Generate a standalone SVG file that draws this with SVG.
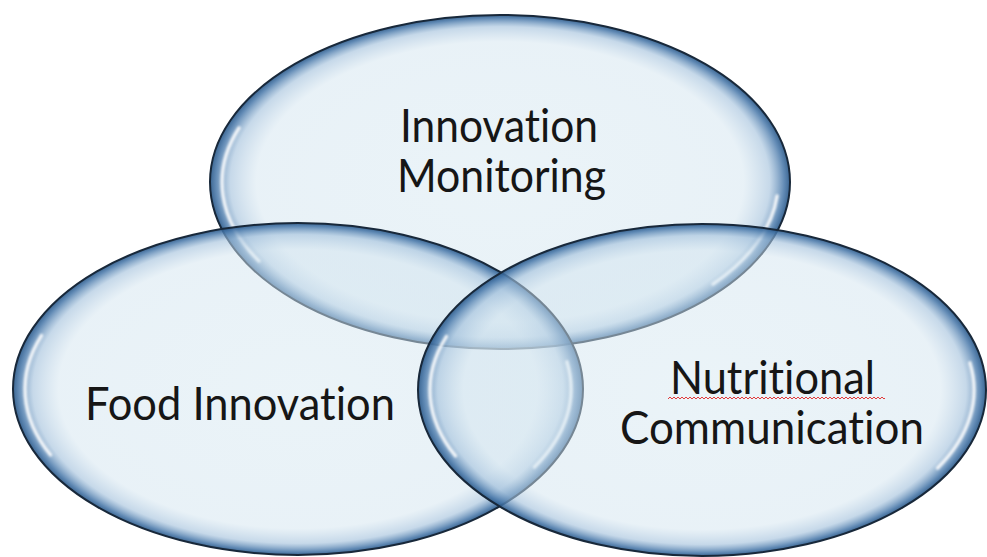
<svg xmlns="http://www.w3.org/2000/svg" width="987" height="557" viewBox="0 0 987 557">
  <style>
    .bubble { fill: url(#glass); stroke: #18283a; stroke-width: 2; }
    .hl { fill: none; stroke: #ffffff; stroke-width: 3.5; stroke-linecap: round; opacity: 0.85; filter: url(#soft); }
    .label { font-family: "Lato", "Open Sans", "Liberation Sans", sans-serif; font-size: 46px; fill: #161616; font-variant-ligatures: none; font-feature-settings: "liga" 0, "dlig" 0; }
  </style>
  <defs>
    <radialGradient id="glass" cx="0.5" cy="0.5" r="0.5">
      <stop offset="0" stop-color="#d6e8f1" stop-opacity="0.5"/>
      <stop offset="0.84" stop-color="#d2e4ef" stop-opacity="0.5"/>
      <stop offset="0.93" stop-color="#a3c1dc" stop-opacity="0.62"/>
      <stop offset="0.98" stop-color="#4676a8" stop-opacity="0.85"/>
      <stop offset="1" stop-color="#2a5888" stop-opacity="0.92"/>
    </radialGradient>
    <filter id="soft" x="-20%" y="-20%" width="140%" height="140%">
      <feGaussianBlur stdDeviation="1.2"/>
    </filter>
    <pattern id="wave" width="4" height="4" patternUnits="userSpaceOnUse">
      <path d="M0,3 L2,1 L4,3" fill="none" stroke="#e23a3a" stroke-width="1"/>
    </pattern>
  </defs>
  <rect width="987" height="557" fill="#ffffff"/>

  <g id="node-innovation-monitoring">
    <ellipse class="bubble" cx="500" cy="182" rx="290" ry="167"/>
    <path class="hl" d="M239,128 A278,158 0 0 0 259,261"/>
    <path class="hl" d="M777,196 A278,158 0 0 1 713,284"/>
    <text class="label" x="400" y="142" textLength="198" lengthAdjust="spacingAndGlyphs">Innovation</text>
    <text class="label" x="397" y="192" textLength="209" lengthAdjust="spacingAndGlyphs">Monitoring</text>
  </g>

  <g id="node-food-innovation">
    <ellipse class="bubble" cx="298" cy="389" rx="285" ry="166"/>
    <path class="hl" d="M41.5,335.6 A273,156 0 0 0 50.6,454.9"/>
    <path class="hl" d="M566.9,361.9 A273,156 0 0 1 534.4,467"/>
    <text class="label" x="85" y="420" textLength="310" lengthAdjust="spacingAndGlyphs">Food Innovation</text>
  </g>

  <g id="node-nutritional-communication">
    <ellipse class="bubble" cx="702" cy="390" rx="284" ry="166"/>
    <path class="hl" d="M446.4,336.6 A272,156 0 0 0 455.5,455.9"/>
    <path class="hl" d="M969.9,362.9 A272,156 0 0 1 937.6,468"/>
    <text class="label" x="670" y="394" textLength="205" lengthAdjust="spacingAndGlyphs">Nutritional</text>
    <rect x="668" y="397" width="217" height="4" fill="url(#wave)"/>
    <text class="label" x="620" y="444" textLength="304" lengthAdjust="spacingAndGlyphs">Communication</text>
  </g>

  <g id="connectors"></g>
</svg>
